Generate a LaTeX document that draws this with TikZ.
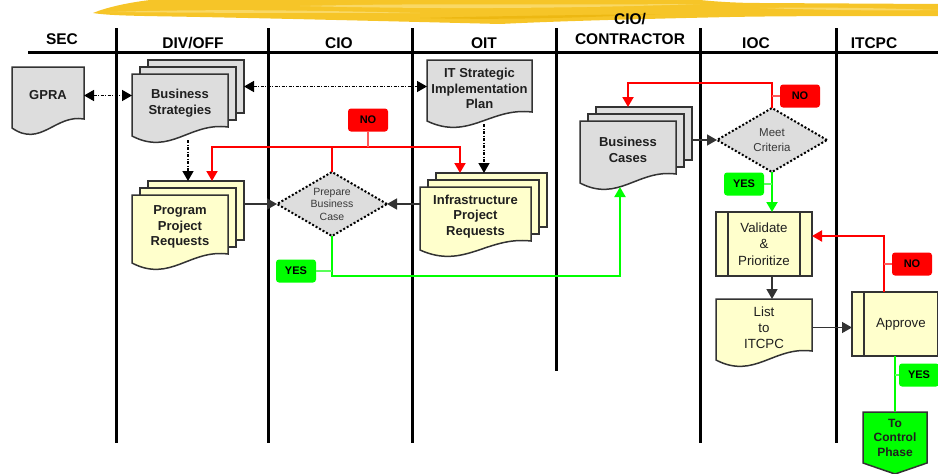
\documentclass[tikz,border=0pt]{standalone}
\usepackage{fontspec}
\setmainfont{Liberation Sans}
\usetikzlibrary{arrows.meta,shapes.geometric}

\definecolor{docgray}{HTML}{DDDDDD}
\definecolor{docyel}{HTML}{FFFFCC}
\definecolor{linec}{HTML}{333333}
\definecolor{brush}{HTML}{F6C528}
\definecolor{brushlt}{HTML}{F9D865}
\definecolor{brushdk}{HTML}{EDB812}
\definecolor{nored}{HTML}{FF0000}
\definecolor{yesgrn}{HTML}{00FF00}

\tikzset{
  lane/.style={line width=3pt,black},
  docline/.style={draw=linec,line width=1.5pt},
  backbox/.style={rectangle,draw=linec,line width=1.5pt,inner sep=0pt,outer sep=0pt},
  doctext/.style={font=\fontsize{13}{15.5}\selectfont\bfseries,align=center,inner sep=0pt,outer sep=0pt,text=black!88},
  hdr/.style={font=\fontsize{15.5}{16.5}\selectfont\bfseries,anchor=base},
  decide/.style={diamond,aspect=1.7,fill=docgray,draw=black,line width=2pt,dash pattern=on 2pt off 2pt,
    inner sep=0pt,outer sep=0pt,minimum width=110,minimum height=64,align=center,text=black!78,
    font=\fontsize{10.5}{12.5}\selectfont},
  predef/.style={rectangle,fill=docyel,draw=linec,line width=1.5pt,minimum height=64,inner sep=0pt,outer sep=0pt,
    align=center,text=black!88,font=\fontsize{13.3}{16.5}\selectfont,
    path picture={\draw[linec,line width=1.5pt]
      ([xshift=12pt]path picture bounding box.north west) -- ([xshift=12pt]path picture bounding box.south west)
      ([xshift=-12pt]path picture bounding box.north east) -- ([xshift=-12pt]path picture bounding box.south east);}},
  flagbox/.style={rectangle,rounded corners=3pt,minimum width=40,minimum height=23,inner sep=0pt,
    font=\fontsize{11}{11}\selectfont\bfseries},
  nolbl/.style={flagbox,fill=nored},
  yeslbl/.style={flagbox,fill=yesgrn},
  flow/.style={linec,line width=1.5pt,-{Triangle[length=10pt,width=11pt]}},
  ddarr/.style={black,line width=1.5pt,dash pattern=on 3pt off 1.5pt on 1pt off 1.5pt,
    {Triangle[length=10pt,width=11pt]}-{Triangle[length=10pt,width=11pt]}},
  ddone/.style={black,line width=1.5pt,dash pattern=on 3pt off 1.5pt on 1pt off 1.5pt,
    -{Triangle[length=10pt,width=11pt]}},
  redln/.style={nored,line width=2pt},
  redarr/.style={redln,-{Triangle[length=10pt,width=11pt]}},
  grnln/.style={yesgrn,line width=2pt},
  grnarr/.style={grnln,-{Triangle[length=10pt,width=11pt]}},
  rlink/.style={red!65,line width=2pt},
  glink/.style={yesgrn!65,line width=2pt}
}

% document shape: name, fill, x1, y1, x2, lower left end, text
\newcommand\docnode[8][]{%
  \draw[docline,fill=#3] (#4,#5) -- (#6,#5) -- (#6,#7-9)
    .. controls ({#4+0.6*(#6-#4)},#7-14) and ({#4+0.4*(#6-#4)},#7+20) .. (#4,#7) -- cycle;
  \node[doctext,#1,minimum width=#6-#4,minimum height=#7-#5-4] (#2) at ({(#4+#6)/2},{(#5+#7-4)/2}) {#8};}

% three stacked documents
\newcommand\multidoc[7]{%
  \node[backbox,fill=#2,minimum width=#5-#3,minimum height=#6-#4-9] (#1-b) at ({(#3+#5)/2+16},{(#4+#6-9)/2-14}) {};
  \node[backbox,fill=#2,minimum width=#5-#3,minimum height=#6-#4-9] (#1-m) at ({(#3+#5)/2+8},{(#4+#6-9)/2-7}) {};
  \docnode{#1}{#2}{#3}{#4}{#5}{#6}{#7}}

\begin{document}
\begin{tikzpicture}[x=1pt,y=-1pt]
\useasboundingbox (0,0) rectangle (938,474);
\clip (0,0) rectangle (938,474);

% brush stroke
\fill[brush] (93,13) .. controls (105,8) and (125,3) .. (150,0) -- (700,0)
  .. controls (720,2) and (740,3) .. (760,3) -- (938,4) -- (938,16)
  .. controls (860,16) and (780,16) .. (730,17) .. controls (640,19) and (560,21) .. (500,24)
  .. controls (420,22) and (300,19) .. (200,17) .. controls (150,16) and (110,16) .. (93,13) -- cycle;
\fill[brushlt] (110,12) .. controls (200,9) and (300,10) .. (420,13) .. controls (300,13) and (200,13) .. (110,12) -- cycle;
\fill[brushlt] (300,6) .. controls (420,3) and (560,5) .. (700,4) .. controls (560,9) and (420,9) .. (300,6) -- cycle;
\fill[brushlt] (760,8) .. controls (820,7) and (880,8) .. (938,10) .. controls (880,11) and (820,10) .. (760,8) -- cycle;
\fill[brushdk] (420,18) .. controls (500,16) and (580,15) .. (660,14) .. controls (580,18) and (500,20) .. (420,18) -- cycle;

% lanes
\draw[lane] (28,52) -- (938,52);
\foreach \x in {116,268,412,700,836}
  \draw[lane] (\x,28) -- (\x,443);
\draw[lane] (556,28) -- (556,371);

\node[hdr] (hsec) at (62,44) {SEC};
\node[hdr] (hdiv) at (193,48) {DIV/OFF};
\node[hdr] (hcio) at (339,48) {CIO};
\node[hdr] (hoit) at (484,48) {OIT};
\node[hdr] (hcioc) at (630,24) {CIO/};
\node[hdr] (hcont) at (630,44) {CONTRACTOR};
\node[hdr] (hioc) at (756,48) {IOC};
\node[hdr] (hitc) at (874,48) {ITCPC};

% documents
\docnode{gpra}{docgray}{12}{67}{84}{128}{GPRA}
\multidoc{bstrat}{docgray}{132}{74}{228}{136}{Business\\Strategies}
\docnode{itplan}{docgray}{427}{60}{532}{121}{IT Strategic\\Implementation\\Plan}
\multidoc{ppr}{docyel}{132}{195}{228}{263}{Program\\Project\\Requests}
\multidoc{infra}{docyel}{420}{187}{531}{250}{Infrastructure\\Project\\Requests}
\multidoc{bcases}{docgray}{580}{121}{676}{183}{Business\\Cases}
\docnode[font=\fontsize{13.3}{16}\selectfont]{list}{docyel}{716}{299}{812}{360}{List\\to\\ITCPC}

\node[decide] (prep) at (332,204) {Prepare\\Business\\Case};
\node[decide,font=\fontsize{11.5}{14.5}\selectfont] (meet) at (772,140) {Meet\\Criteria};
\node[predef,minimum width=96] (valid) at (764,244) {Validate\\\&\\Prioritize};
\node[predef,minimum width=98] (appr) at (901,324) {Approve};

\draw[linec,line width=1.5pt,fill=yesgrn] (863,412) -- (927,412) -- (927,463) -- (895,474) -- (863,463) -- cycle;
\node[doctext,font=\fontsize{12}{14.5}\selectfont\bfseries,minimum width=64,minimum height=51] (ctrl) at (895,437.5) {To\\Control\\Phase};

\node[nolbl] (nocio) at (368,120) {NO};
\node[nolbl] (nomeet) at (800,96) {NO};
\node[nolbl] (noit) at (912,264) {NO};
\node[yeslbl] (yescio) at (296,271) {YES};
\node[yeslbl] (yesioc) at (744,184) {YES};
\node[yeslbl] (yesit) at (919,375) {YES};

% links
\draw[ddarr] (gpra.east) -- (gpra.east -| bstrat.west);
\draw[ddarr] (bstrat-b.east) -- (bstrat-b.east -| itplan.west);
\draw[ddone] ([xshift=8,yshift=-8]bstrat.south) -- ([xshift=-8]ppr-b.north);
\draw[ddone] ([xshift=4.5,yshift=-7]itplan.south) -- ([xshift=-7.5]infra-b.north);

\draw[flow] (prep.west -| ppr-b.east) -- (prep.west);
\draw[flow] (prep.east -| infra.west) -- (prep.east);
\draw[flow] (meet.west -| bcases-b.east) -- (meet.west);
\draw[flow] (meet.south |- valid.south) -- (meet.south |- list.north);
\draw[flow] (list.east) -- (list.east -| appr.west);

% no
\coordinate (nobar) at ([yshift=25]prep.north);
\draw[redln] (prep.north) -- (nobar);
\draw[redarr] (nobar) -| ([xshift=16]ppr-b.north);
\draw[redarr] (nobar) -| ([xshift=-31.5]infra-b.north);
\draw[rlink] (nocio.south) -- (nocio.south |- nobar);
\draw[redarr] (meet.north) -- ++(0,-25) -| ([xshift=-16]bcases-b.north);
\draw[rlink] (nomeet.west) -- (nomeet.west -| meet.north);
\coordinate (aprtop) at ([xshift=-17]appr.north);
\draw[redarr] (aprtop) |- ([yshift=8]valid.east);
\draw[rlink] (noit.west) -- (noit.west -| aprtop);

% yes
\coordinate (gbend) at ([yshift=-40]prep.south);
\draw[grnarr] (prep.south) -- (gbend) -| ([xshift=-8,yshift=-8]bcases.south);
\draw[glink] (yescio.east) -- (yescio.east -| prep.south);
\draw[grnarr] (meet.south) -- (meet.south |- valid.north);
\draw[glink] (yesioc.east) -- (yesioc.east -| meet.south);
\draw[grnln] (ctrl.north |- appr.south) -- (ctrl.north);
\draw[glink] (yesit.west) -- (yesit.west -| ctrl.north);

\end{tikzpicture}
\end{document}
